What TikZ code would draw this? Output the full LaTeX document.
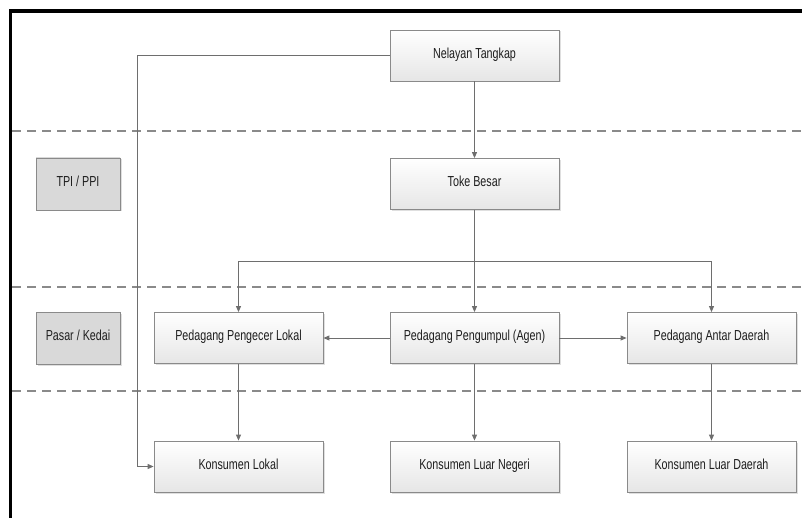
\documentclass[tikz,border=0pt]{standalone}
\usepackage{fontspec}
\setmainfont{Liberation Sans}[FakeStretch=0.74]
\usepackage{xcolor}
\usetikzlibrary{arrows.meta,shadows}

\definecolor{trait}{HTML}{6E6E6E}
\definecolor{bord}{HTML}{8A8A8A}
\definecolor{grisboite}{HTML}{D9D9D9}
\definecolor{grisbas}{HTML}{E6E6E6}
\definecolor{texte}{HTML}{1E1E1E}

\tikzset{
  acteur/.style={draw=bord, line width=0.8pt, top color=white, bottom color=grisbas,
    minimum width=169pt, minimum height=51pt, inner sep=2pt, text=texte,
    font=\fontsize{14.5}{16}\selectfont, text height=0.75em, text depth=0.22em,
    drop shadow={opacity=0.25, shadow xshift=1.5pt, shadow yshift=-1.5pt}},
  lieu/.style={acteur, fill=grisboite, top color=grisboite, bottom color=grisboite,
    minimum width=84pt, minimum height=52pt},
  fleche/.style={draw=trait, line width=0.9pt, -{Triangle[length=6pt,width=5pt]}},
  lien/.style={draw=trait, line width=0.9pt},
  separation/.style={draw=bord, line width=1.3pt, dash pattern=on 9pt off 6pt}
}

\begin{document}
\begin{tikzpicture}[x=1pt, y=-1pt]
  \useasboundingbox (0,0) rectangle (802,518);

  % Cadre
  \draw[line width=3.5pt, black] (10.5,518) -- (10.5,11) -- (802,11);

  % Lignes de separation
  \foreach \y in {131, 287, 391} {
    \draw[separation] (12,\y) -- (802,\y);
  }

  % Lieux
  \node[lieu] (tpi) at (78,184) {TPI / PPI};
  \node[lieu] (pasar) at (78,338) {Pasar / Kedai};

  % Acteurs
  \node[acteur] (nelayan) at (474.5,55.5) {Nelayan Tangkap};
  \node[acteur] (toke) at (474.5,184) {Toke Besar};
  \node[acteur] (pengecer) at (238.5,338) {Pedagang Pengecer Lokal};
  \node[acteur] (pengumpul) at (474.5,338) {Pedagang Pengumpul (Agen)};
  \node[acteur] (antar) at (711.5,338) {Pedagang Antar Daerah};
  \node[acteur] (klokal) at (238.5,466.5) {Konsumen Lokal};
  \node[acteur] (knegeri) at (474.5,466.5) {Konsumen Luar Negeri};
  \node[acteur] (kdaerah) at (711.5,466.5) {Konsumen Luar Daerah};

  % Points de passage
  \coordinate (coude) at (137,55.5);
  \coordinate (cabang) at (474.5,261);

  % Fleches
  \draw[fleche] (nelayan) -- (toke);
  \draw[fleche] (nelayan.west) -- (coude) |- (klokal.west);
  \draw[lien] (toke) -- (cabang);
  \draw[fleche] (cabang) -| (pengecer.north);
  \draw[fleche] (cabang) -- (pengumpul.north);
  \draw[fleche] (cabang) -| (antar.north);
  \draw[fleche] (pengumpul) -- (pengecer);
  \draw[fleche] (pengumpul) -- (antar);
  \draw[fleche] (pengecer) -- (klokal);
  \draw[fleche] (pengumpul) -- (knegeri);
  \draw[fleche] (antar) -- (kdaerah);
\end{tikzpicture}
\end{document}
